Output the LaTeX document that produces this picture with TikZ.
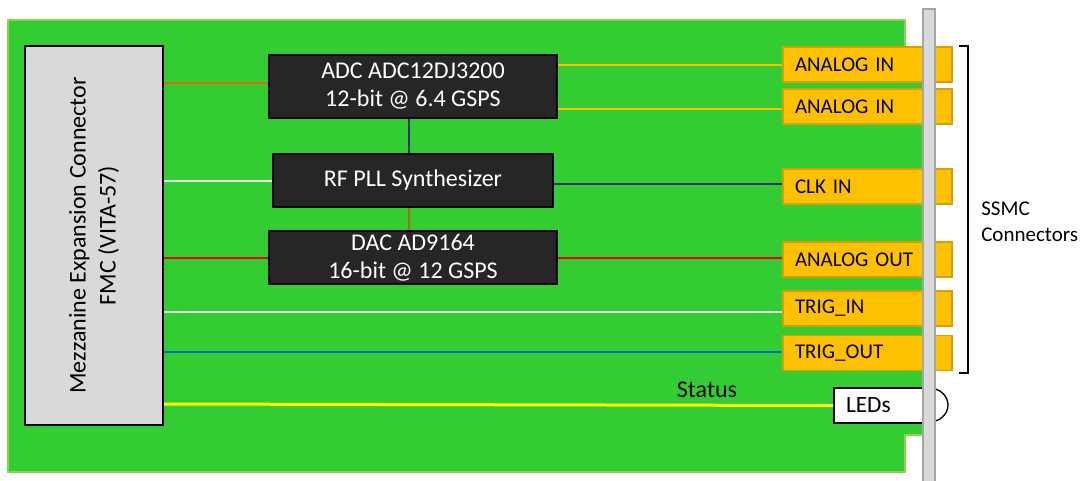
\documentclass[tikz,border=0pt]{standalone}
\usepackage{fontspec}
\setmainfont{Carlito}
\definecolor{board}{HTML}{33CC33}
\definecolor{boardedge}{HTML}{92D050}
\definecolor{lgray}{HTML}{D9D9D9}
\definecolor{bargray}{HTML}{A6A6A6}
\definecolor{chipgray}{HTML}{262626}
\definecolor{connfill}{HTML}{FFC000}
\definecolor{conndraw}{HTML}{D4A00A}
\definecolor{sigorange}{HTML}{E8650A}
\definecolor{signavy}{HTML}{1F3864}
\definecolor{sigbrown}{HTML}{A0700A}
\definecolor{sigwhite}{HTML}{E6E6E6}
\definecolor{sigred}{HTML}{F00000}
\definecolor{sigblue}{HTML}{0070C0}
\definecolor{siggold}{HTML}{FFC000}
\definecolor{sigyellow}{HTML}{FFFF00}
\begin{document}
\begin{tikzpicture}[x=0.75pt,y=-0.75pt,
  chip/.style={draw=black, line width=1pt, fill=chipgray, text=white, align=center,
    font=\fontsize{18}{21}\selectfont, inner sep=0pt},
  conn/.style={draw=conndraw, line width=1pt, fill=connfill, minimum height=26.25pt,
    text width=108.75pt, inner xsep=9pt, inner ysep=0pt, align=left,
    font=\fontsize{15.75}{18}\selectfont},
  sig/.style={line width=1.5pt},
  lbl/.style={font=\fontsize{18}{21}\selectfont, inner sep=0pt}]
\useasboundingbox (0,0) rectangle (1082,480);
% board
\filldraw[fill=board, draw=boardedge, line width=2pt]
  (8,20) -- (905,20) -- (905,47) -- (929,47) -- (929,435) -- (905,435) -- (905,472) -- (8,472) -- cycle;
% chips
\node[chip, minimum width=216pt, minimum height=47.25pt] (adc) at (413,86.5) {ADC ADC12DJ3200\\12-bit @ 6.4 GSPS};
\node[chip, minimum width=210pt, minimum height=39.75pt] (pll) at (413,180.5) {RF PLL Synthesizer};
\node[chip, minimum width=216pt, minimum height=39.75pt] (dac) at (413,257.5) {DAC AD9164\\16-bit @ 12 GSPS};
% mezzanine
\node[draw=black, line width=1.5pt, fill=lgray, minimum width=103.5pt, minimum height=284.25pt,
  inner sep=0pt] (mezz) at (94,235.5) {};
\node[lbl, rotate=90, align=center, font=\fontsize{18}{22.5}\selectfont] (mezztxt) at (mezz.center)
  {Mezzanine Expansion Connector\\FMC (VITA-57)};
% connectors
\node[conn] (ain1) at (867.5,64.5) {ANALOG IN};
\node[conn] (ain2) at (867.5,106.5) {ANALOG IN};
\node[conn] (clk) at (867.5,186.5) {CLK IN};
\node[conn] (aout) at (867.5,259.5) {ANALOG OUT};
\node[conn] (tin) at (867.5,308.5) {TRIG\_IN};
\node[conn] (tout) at (867.5,353) {TRIG\_OUT};
% LEDs
\node[draw=black, line width=1pt, fill=white, minimum height=26.25pt, text width=50.25pt,
  inner xsep=9pt, inner ysep=0pt, align=left, font=\fontsize{17.5}{20}\selectfont]
  (leds) at (879.5,405.5) {LEDs};
\filldraw[fill=white, draw=black, line width=1pt] (929,388) arc[start angle=-90, end angle=90, x radius=19, y radius=17];
% panel bar
\filldraw[fill=lgray, draw=bargray, line width=1.2pt] (923,9) rectangle (935,484);
% signals
\draw[sig, sigorange] (mezz.east |- 0,83) -- (adc.west |- 0,83);
\draw[sig, sigwhite] (mezz.east |- pll.west) -- (pll.west);
\draw[sig, sigred] (mezz.east |- 0,258) -- (dac.west |- 0,258);
\draw[sig, signavy] ([xshift=-3pt]adc.south) -- ([xshift=-3pt]pll.north);
\draw[sig, sigbrown] ([xshift=-3pt]pll.south) -- ([xshift=-3pt]dac.north);
\draw[sig, siggold] (adc.east |- 0,65) -- (ain1.west |- 0,65);
\draw[sig, siggold] (adc.east |- 0,109) -- (ain2.west |- 0,109);
\draw[sig, signavy] (pll.east |- 0,184) -- (clk.west |- 0,184);
\draw[sig, sigred] (dac.east |- 0,258) -- (aout.west |- 0,258);
\draw[sig, sigwhite] (mezz.east |- 0,312) -- (tin.west |- 0,312);
\draw[sig, sigblue] (mezz.east |- 0,352) -- (tout.west |- 0,352);
\draw[line width=2.25pt, sigyellow] (mezz.east |- 0,404) -- (leds.west);
\node[lbl] (status) at (707,390) {Status};
% bracket
\coordinate (bt) at (959,46);
\coordinate (bb) at (959,373);
\draw[line width=1pt] (bt) -- ++(9,0) -- ++(0,327) -- (bb);
\node[anchor=west, align=left, inner sep=0pt, font=\fontsize{15.75}{19.5}\selectfont] (ssmc) at (981,222) {SSMC\\Connectors};
\end{tikzpicture}
\end{document}
